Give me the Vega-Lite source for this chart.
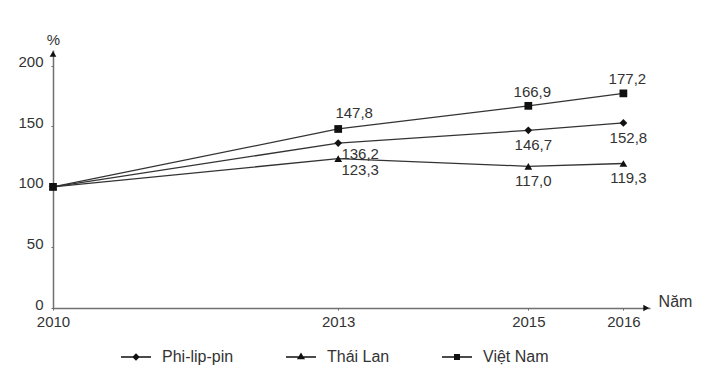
{
  "$schema": "https://vega.github.io/schema/vega-lite/v6.json",
  "autosize": "none",
  "width": 597,
  "height": 258,
  "padding": {"left": 53, "top": 50, "right": 54, "bottom": 62},
  "background": "white",
  "config": {
    "view": {"stroke": null},
    "font": "Liberation Sans",
    "axis": {"grid": false, "domainColor": "#707070", "domainWidth": 1.5, "tickColor": "#666", "tickSize": 2, "labelFont": "Liberation Sans", "labelFontSize": 15, "labelColor": "#333", "titleFont": "Liberation Sans", "titleFontWeight": "normal", "titleColor": "#333"}
  },
  "resolve": {"scale": {"shape": "independent"}, "legend": {"shape": "independent"}},
  "datasets": {
    "main": [
      {"year": 2010, "series": "Phi-lip-pin", "value": 100},
      {"year": 2013, "series": "Phi-lip-pin", "value": 136.2},
      {"year": 2015, "series": "Phi-lip-pin", "value": 146.7},
      {"year": 2016, "series": "Phi-lip-pin", "value": 152.8},
      {"year": 2010, "series": "Thái Lan", "value": 100},
      {"year": 2013, "series": "Thái Lan", "value": 123.3},
      {"year": 2015, "series": "Thái Lan", "value": 117.0},
      {"year": 2016, "series": "Thái Lan", "value": 119.3},
      {"year": 2010, "series": "Việt Nam", "value": 100},
      {"year": 2013, "series": "Việt Nam", "value": 147.8},
      {"year": 2015, "series": "Việt Nam", "value": 166.9},
      {"year": 2016, "series": "Việt Nam", "value": 177.2}
    ],
    "arrows": [
      {"year": 2010, "value": 209.8, "dir": "up"},
      {"year": 2016.24, "value": 0, "dir": "right"}
    ]
  },
  "layer": [
    {
      "data": {"name": "main"},
      "mark": {"type": "line", "color": "#333", "strokeWidth": 1.3},
      "encoding": {
        "x": {"field": "year", "type": "quantitative", "scale": {"domain": [2010, 2016.28], "nice": false, "zero": false},
          "axis": {"values": [2010, 2013, 2015, 2016], "format": "d", "labelPadding": 4, "title": "Năm", "titleFontSize": 16, "titleX": 622, "titleY": -7, "titleAlign": "center", "titleBaseline": "middle", "labelFlush": false}},
        "y": {"field": "value", "type": "quantitative", "scale": {"domain": [0, 213], "nice": false},
          "axis": {"values": [0, 50, 100, 150, 200], "labelPadding": 8, "labelOffset": -4, "title": "%", "titleFontSize": 15, "titleAngle": 0, "titleX": 0, "titleY": -11, "titleAlign": "center", "titleBaseline": "middle", "labelFlush": false}},
        "detail": {"field": "series"}
      }
    },
    {
      "data": {"name": "main"},
      "mark": {"type": "point", "filled": true, "opacity": 1, "color": "#111", "size": 60},
      "encoding": {
        "x": {"field": "year", "type": "quantitative"},
        "y": {"field": "value", "type": "quantitative"},
        "shape": {"field": "series", "type": "nominal",
          "scale": {"domain": ["Phi-lip-pin", "Thái Lan", "Việt Nam"], "range": ["diamond", "triangle-up", "square"]},
          "legend": null}
      }
    },
    {
      "data": {"name": "main"},
      "transform": [{"filter": "datum.year === 2016"}],
      "mark": {"type": "point", "filled": true, "opacity": 0, "color": "#111"},
      "encoding": {
        "x": {"field": "year", "type": "quantitative"},
        "y": {"field": "value", "type": "quantitative"},
        "shape": {"field": "series", "type": "nominal",
          "scale": {"domain": ["Phi-lip-pin", "Thái Lan", "Việt Nam"], "range": ["M-1,-0.045L1,-0.045L1,0.045L-1,0.045Z M0,-0.25L0.25,0L0,0.25L-0.25,0Z", "M-1,-0.045L1,-0.045L1,0.045L-1,0.045Z M-0.27,0.15L0,-0.3L0.27,0.15Z", "M-1,-0.045L1,-0.045L1,0.045L-1,0.045Z M-0.2,-0.2L0.2,-0.2L0.2,0.2L-0.2,0.2Z"]},
          "legend": {"orient": "none", "legendX": 67, "legendY": 291, "direction": "horizontal", "title": null, "padding": 0,
            "symbolSize": 900, "symbolFillColor": "#111", "symbolOpacity": 1,
            "labelFontSize": 16, "labelFont": "Liberation Sans", "labelColor": "#333", "labelOffset": 10, "columnPadding": 49}
        }
      }
    },
    {
      "data": {"name": "arrows"},
      "transform": [{"filter": "datum.dir === 'up'"}],
      "mark": {"type": "point", "shape": "triangle-up", "filled": true, "color": "#111", "opacity": 1, "size": 45},
      "encoding": {"x": {"field": "year", "type": "quantitative"}, "y": {"field": "value", "type": "quantitative"}}
    },
    {
      "data": {"name": "arrows"},
      "transform": [{"filter": "datum.dir === 'right'"}],
      "mark": {"type": "point", "shape": "triangle-right", "filled": true, "color": "#111", "opacity": 1, "size": 45},
      "encoding": {"x": {"field": "year", "type": "quantitative"}, "y": {"field": "value", "type": "quantitative"}}
    },
    {
      "data": {"name": "main"},
      "transform": [{"filter": "datum.series === 'Việt Nam' && datum.year === 2013"}, {"calculate": "replace(format(datum.value, '.1f'), '.', ',')", "as": "lbl"}],
      "mark": {"type": "text", "fontSize": 15, "color": "#333", "dx": 16, "dy": -16, "baseline": "middle"},
      "encoding": {"x": {"field": "year", "type": "quantitative"}, "y": {"field": "value", "type": "quantitative"}, "text": {"field": "lbl"}}
    },
    {
      "data": {"name": "main"},
      "transform": [{"filter": "datum.series === 'Việt Nam' && datum.year > 2013"}, {"calculate": "replace(format(datum.value, '.1f'), '.', ',')", "as": "lbl"}],
      "mark": {"type": "text", "fontSize": 15, "color": "#333", "dx": 4, "dy": -14, "baseline": "middle"},
      "encoding": {"x": {"field": "year", "type": "quantitative"}, "y": {"field": "value", "type": "quantitative"}, "text": {"field": "lbl"}}
    },
    {
      "data": {"name": "main"},
      "transform": [{"filter": "datum.series !== 'Việt Nam' && datum.year === 2013"}, {"calculate": "replace(format(datum.value, '.1f'), '.', ',')", "as": "lbl"}],
      "mark": {"type": "text", "fontSize": 15, "color": "#333", "dx": 22, "dy": 11, "baseline": "middle"},
      "encoding": {"x": {"field": "year", "type": "quantitative"}, "y": {"field": "value", "type": "quantitative"}, "text": {"field": "lbl"}}
    },
    {
      "data": {"name": "main"},
      "transform": [{"filter": "datum.series !== 'Việt Nam' && datum.year > 2013"}, {"calculate": "replace(format(datum.value, '.1f'), '.', ',')", "as": "lbl"}],
      "mark": {"type": "text", "fontSize": 15, "color": "#333", "dx": 5, "dy": 15, "baseline": "middle"},
      "encoding": {"x": {"field": "year", "type": "quantitative"}, "y": {"field": "value", "type": "quantitative"}, "text": {"field": "lbl"}}
    }
  ]
}
